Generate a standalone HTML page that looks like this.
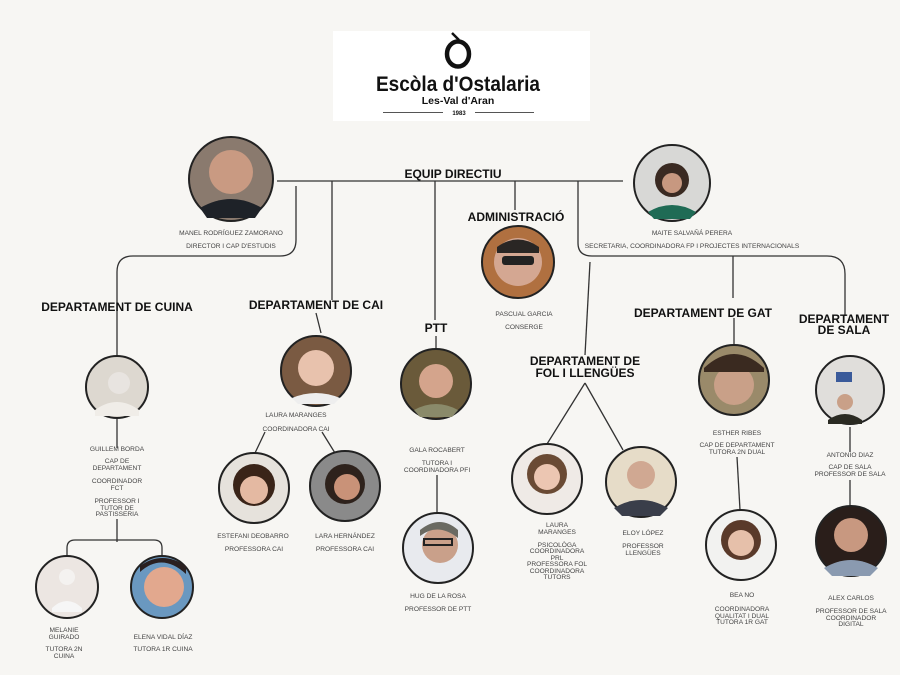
<!DOCTYPE html>
<html><head><meta charset="utf-8"><style>
html,body{margin:0;padding:0;background:#f7f6f3;}
svg{display:block;font-family:"Liberation Sans",sans-serif;}
.h{font-weight:bold;font-size:12px;fill:#111;text-anchor:middle;}
.t{font-size:6.6px;fill:#444;text-anchor:middle;}
.l{stroke:#333;stroke-width:1.3;fill:none;}
.c{stroke:#222;stroke-width:2;}
.w{fill:none;stroke:#fff;stroke-width:1.5;}
</style></head><body>
<svg width="900" height="675" viewBox="0 0 900 675">
<rect width="900" height="675" fill="#f7f6f3"/>
<!-- logo -->
<rect x="333" y="31" width="257" height="90" fill="#fff"/>
<ellipse cx="458" cy="54" rx="11" ry="12.5" fill="none" stroke="#111" stroke-width="4.5"/>
<path d="M452,33 L459,40" stroke="#111" stroke-width="2.5"/>
<text x="458" y="91" font-size="21.5" font-weight="bold" text-anchor="middle" fill="#111" textLength="164" lengthAdjust="spacingAndGlyphs">Escòla d'Ostalaria</text>
<text x="458" y="104" font-size="10.5" font-weight="bold" text-anchor="middle" fill="#111">Les-Val d'Aran</text>
<path d="M383,112.5 H443 M475,112.5 H534" stroke="#555" stroke-width="1"/>
<text x="459" y="115" font-size="6" font-weight="bold" text-anchor="middle" fill="#111">1983</text>

<!-- connectors -->
<path class="l" d="M277,181 H623"/>
<path class="l" d="M296,186 V240 Q296,256 280,256 H133 Q117,256 117,272 V356"/>
<path class="l" d="M332,181 V300"/>
<path class="l" d="M316,313 L321,333"/>
<path class="l" d="M435,181 V320"/>
<path class="l" d="M436,336 V352"/>
<path class="l" d="M515,181 V210"/>
<path class="l" d="M578,181 V243 Q578,256 592,256 H827 Q845,256 845,274 V316"/>
<path class="l" d="M733,256 V298"/>
<path class="l" d="M734,318 V345"/>
<path class="l" d="M590,262 L585,355"/>
<path class="l" d="M585,383 L547,444 M585,383 L623,450"/>
<path class="l" d="M437,475 V514"/>
<path class="l" d="M117,418 V448 M117,519 V542"/>
<path class="l" d="M67,556 V548 Q67,540 75,540 H154 Q162,540 162,548 V556"/>
<path class="l" d="M265,432 L255,453 M322,432 L335,453"/>
<path class="l" d="M737,457 L740,510"/>
<path class="l" d="M850,427 V452 M850,480 V507"/>

<!-- headings -->
<text class="h" x="453" y="178">EQUIP DIRECTIU</text>
<text class="h" x="516" y="221">ADMINISTRACIÓ</text>
<text class="h" x="117" y="311">DEPARTAMENT DE CUINA</text>
<text class="h" x="316" y="309">DEPARTAMENT DE CAI</text>
<text class="h" x="436" y="332">PTT</text>
<text class="h" x="585" y="365">DEPARTAMENT DE</text>
<text class="h" x="585" y="377">FOL I LLENGÜES</text>
<text class="h" x="703" y="317">DEPARTAMENT DE GAT</text>
<text class="h" x="844" y="323">DEPARTAMENT</text>
<text class="h" x="844" y="334">DE SALA</text>

<!-- photos -->
<g>
<circle class="c" cx="231" cy="179" r="42" fill="#8a7a6e"/><circle cx="231" cy="172" r="22" fill="#c99a82"/><path d="M200,208 Q231,190 262,208 L255,218 H207Z" fill="#1e2228"/>
<circle class="c" cx="672" cy="183" r="38" fill="#d8d8d6"/><circle cx="672" cy="180" r="17" fill="#3a2a22"/><circle cx="672" cy="183" r="10" fill="#c79880"/><path d="M648,212 Q672,198 696,212 L690,219 H654Z" fill="#1f6b55"/>
<circle class="c" cx="518" cy="262" r="36" fill="#b07040"/><circle cx="518" cy="262" r="24" fill="#d4a792"/><rect x="502" y="256" width="32" height="9" rx="3" fill="#222"/><path d="M497,247 Q518,232 539,247 V253 H497Z" fill="#2a2624"/>
<circle class="c" cx="117" cy="387" r="31" fill="#ddd8d0"/><circle cx="119" cy="383" r="11" fill="#e8e4e0"/><path d="M95,410 Q117,394 139,410 V416 H95Z" fill="#f0ede8"/>
<circle class="c" cx="316" cy="371" r="35" fill="#7a5a42"/><circle cx="316" cy="368" r="18" fill="#e8c2ad"/><path d="M292,398 Q316,388 340,398 L334,404 H298Z" fill="#eee"/>
<circle class="c" cx="436" cy="384" r="35" fill="#6a5a3a"/><circle cx="436" cy="381" r="17" fill="#d4a48c"/><path d="M414,410 Q436,398 458,410 L452,417 H420Z" fill="#8a8a6a"/>
<circle class="c" cx="254" cy="488" r="35" fill="#e6e2dc"/><circle cx="254" cy="485" r="21" fill="#3a2418"/><circle cx="254" cy="490" r="14" fill="#e4b9a2"/>
<circle class="c" cx="345" cy="486" r="35" fill="#8a8a8a"/><circle cx="345" cy="484" r="20" fill="#2e221c"/><circle cx="347" cy="487" r="13" fill="#c99278"/>
<circle class="c" cx="438" cy="548" r="35" fill="#e8eaee"/><circle cx="440" cy="545" r="18" fill="#c9a08a"/><path d="M420,536 Q438,522 458,538 V530 Q440,514 420,530Z" fill="#6a6a62"/><rect x="424" y="539" width="28" height="6" fill="none" stroke="#222" stroke-width="2"/>
<circle class="c" cx="547" cy="479" r="35" fill="#efeae6"/><circle cx="547" cy="474" r="20" fill="#6a4a34"/><circle cx="547" cy="477" r="13" fill="#ecc6b2"/>
<circle class="c" cx="641" cy="482" r="35" fill="#e6dcc8"/><circle cx="641" cy="475" r="14" fill="#d0a892"/><path d="M614,508 Q641,492 668,508 L660,516 H622Z" fill="#3a3e4a"/>
<circle class="c" cx="734" cy="380" r="35" fill="#9a8a6a"/><circle cx="734" cy="385" r="20" fill="#c9a088"/><path d="M704,368 Q734,340 764,368 V372 H704Z" fill="#3a2a20"/>
<circle class="c" cx="850" cy="390" r="34" fill="#e0dedb"/><circle cx="845" cy="402" r="8" fill="#c9a088"/><path d="M828,420 Q845,408 862,420 V424 H828Z" fill="#2a2a22"/><rect x="836" y="372" width="16" height="10" fill="#3a5a9a"/>
<circle class="c" cx="741" cy="545" r="35" fill="#f2f2f0"/><circle cx="741" cy="540" r="20" fill="#5a3a2a"/><circle cx="741" cy="543" r="13" fill="#e6c0aa"/>
<circle class="c" cx="851" cy="541" r="35" fill="#2a1e1a"/><circle cx="851" cy="535" r="17" fill="#c89880"/><path d="M824,568 Q851,552 878,568 L870,576 H832Z" fill="#8a9ab0"/>
<circle class="c" cx="67" cy="587" r="31" fill="#ece6e2"/><circle cx="67" cy="577" r="8" fill="#f4f2f0"/><path d="M52,608 Q67,594 82,608 V612 H52Z" fill="#f6f6f6"/>
<circle class="c" cx="162" cy="587" r="31" fill="#6a98c0"/><circle cx="164" cy="587" r="20" fill="#e2a88e"/><path d="M140,572 Q162,552 186,574 V566 Q162,550 140,566Z" fill="#2a2020"/>
</g>

<!-- labels -->
<text class="t" x="231" y="235">MANEL RODRÍGUEZ ZAMORANO</text>
<text class="t" x="231" y="248">DIRECTOR I CAP D'ESTUDIS</text>
<text class="t" x="692" y="235">MAITE SALVAÑÁ PERERA</text>
<text class="t" x="692" y="248">SECRETARIA, COORDINADORA FP I PROJECTES INTERNACIONALS</text>
<text class="t" x="524" y="316">PASCUAL GARCIA</text>
<text class="t" x="524" y="329">CONSERGE</text>
<text class="t" x="117" y="451">GUILLEM BORDA</text>
<text class="t" x="117" y="463">CAP DE</text>
<text class="t" x="117" y="470">DEPARTAMENT</text>
<text class="t" x="117" y="483">COORDINADOR</text>
<text class="t" x="117" y="490">FCT</text>
<text class="t" x="117" y="503">PROFESSOR I</text>
<text class="t" x="117" y="510">TUTOR DE</text>
<text class="t" x="117" y="516">PASTISSERIA</text>
<text class="t" x="64" y="632">MELANIE</text>
<text class="t" x="64" y="639">GUIRADO</text>
<text class="t" x="64" y="651">TUTORA 2N</text>
<text class="t" x="64" y="658">CUINA</text>
<text class="t" x="163" y="639">ELENA VIDAL DÍAZ</text>
<text class="t" x="163" y="651">TUTORA 1R CUINA</text>
<text class="t" x="296" y="417">LAURA MARANGES</text>
<text class="t" x="296" y="431">COORDINADORA CAI</text>
<text class="t" x="253" y="538">ESTEFANI DEOBARRO</text>
<text class="t" x="345" y="538">LARA HERNÁNDEZ</text>
<text class="t" x="254" y="551">PROFESSORA CAI</text>
<text class="t" x="345" y="551">PROFESSORA CAI</text>
<text class="t" x="437" y="452">GALA ROCABERT</text>
<text class="t" x="437" y="465">TUTORA I</text>
<text class="t" x="437" y="472">COORDINADORA PFI</text>
<text class="t" x="438" y="598">HUG DE LA ROSA</text>
<text class="t" x="438" y="611">PROFESSOR DE PTT</text>
<text class="t" x="557" y="527">LAURA</text>
<text class="t" x="557" y="534">MARANGES</text>
<text class="t" x="557" y="547">PSICOLÒGA</text>
<text class="t" x="557" y="553">COORDINADORA</text>
<text class="t" x="557" y="560">PRL</text>
<text class="t" x="557" y="566">PROFESSORA FOL</text>
<text class="t" x="557" y="573">COORDINADORA</text>
<text class="t" x="557" y="579">TUTORS</text>
<text class="t" x="643" y="535">ELOY LÓPEZ</text>
<text class="t" x="643" y="548">PROFESSOR</text>
<text class="t" x="643" y="555">LLENGÜES</text>
<text class="t" x="737" y="435">ESTHER RIBES</text>
<text class="t" x="737" y="447">CAP DE DEPARTAMENT</text>
<text class="t" x="737" y="454">TUTORA 2N DUAL</text>
<text class="t" x="850" y="457">ANTONIO DIAZ</text>
<text class="t" x="850" y="469">CAP DE SALA</text>
<text class="t" x="850" y="476">PROFESSOR DE SALA</text>
<text class="t" x="742" y="597">BEA NO</text>
<text class="t" x="742" y="611">COORDINADORA</text>
<text class="t" x="742" y="618">QUALITAT I DUAL</text>
<text class="t" x="742" y="624">TUTORA 1R GAT</text>
<text class="t" x="851" y="600">ALEX CARLOS</text>
<text class="t" x="851" y="613">PROFESSOR DE SALA</text>
<text class="t" x="851" y="620">COORDINADOR</text>
<text class="t" x="851" y="626">DIGITAL</text>
</svg>
</body></html>
